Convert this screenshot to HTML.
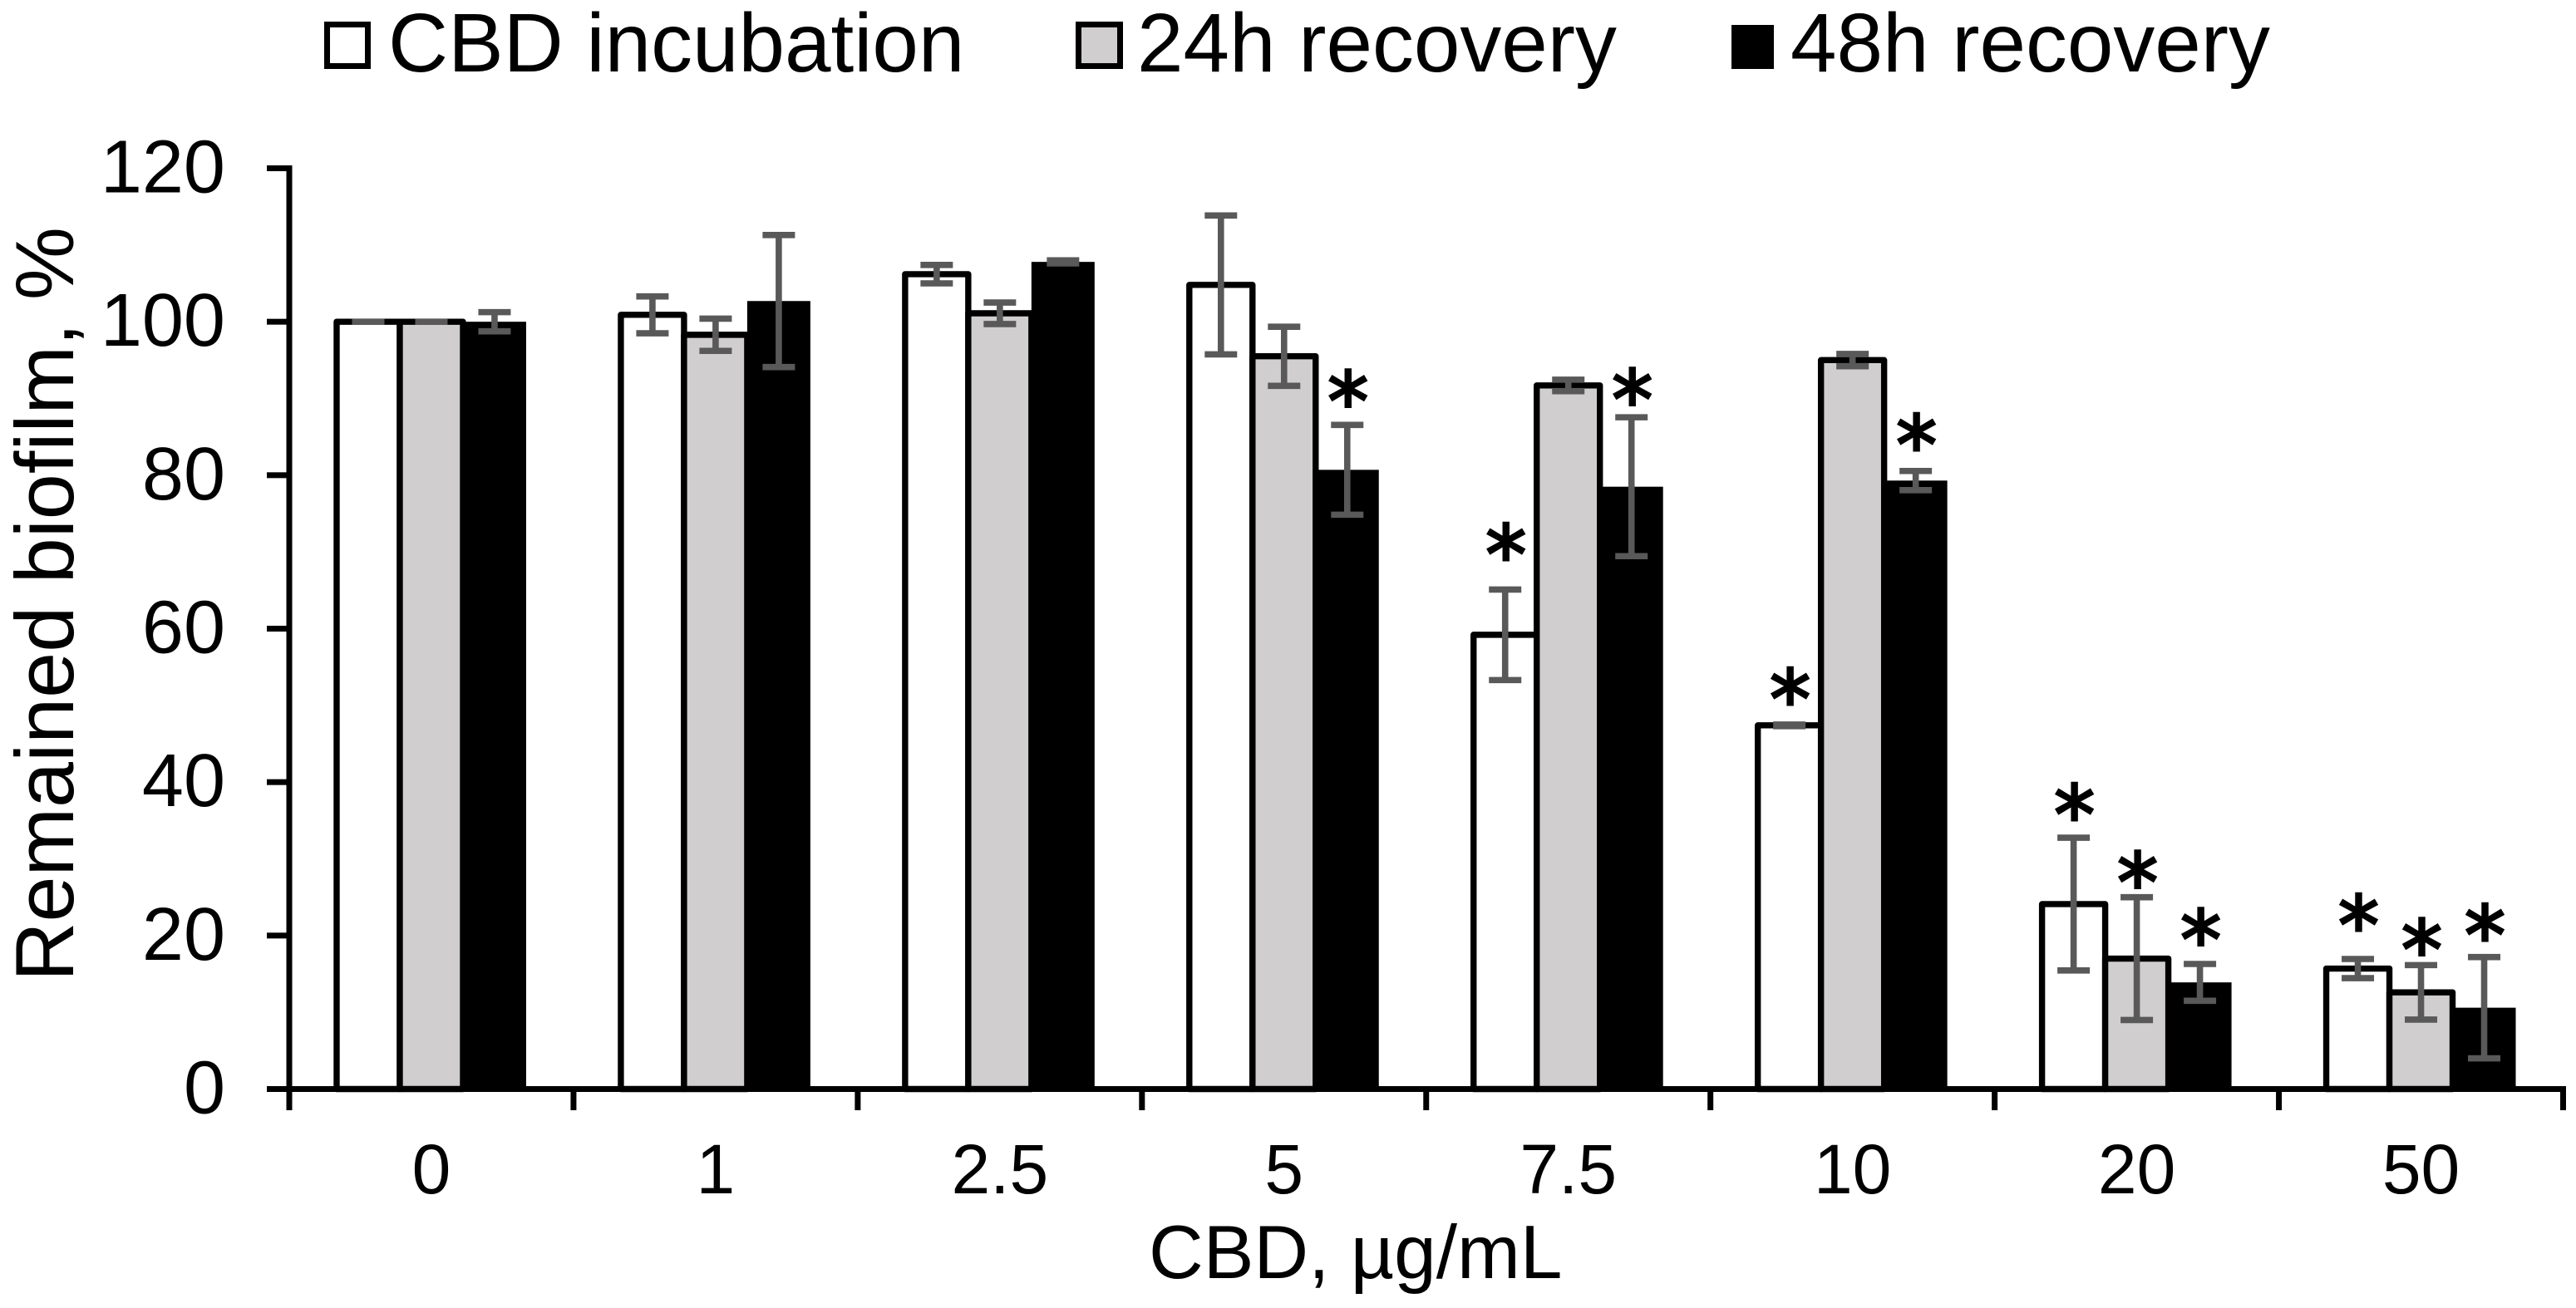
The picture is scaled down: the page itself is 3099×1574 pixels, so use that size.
<!DOCTYPE html>
<html lang="en">
<head>
<meta charset="utf-8">
<title>Remained biofilm after CBD treatment</title>
<style>
html,body{margin:0;padding:0;background:#fff;width:3099px;height:1574px;overflow:hidden}
svg{display:block}
text{font-family:"Liberation Sans",Arial,sans-serif;fill:#000}
</style>
</head>
<body>
<svg id="chart" xmlns="http://www.w3.org/2000/svg" width="3099" height="1574" viewBox="0 0 3099 1574">
  <rect x="0" y="0" width="3099" height="1574" fill="#ffffff"/>
  <g id="legend">
    <g>
      <rect x="393.5" y="29.5" width="49" height="50" fill="#ffffff" stroke="#000" stroke-width="7"/>
      <text x="467" y="86" font-size="99.8">CBD incubation</text>
    </g>
    <g>
      <rect x="1297.5" y="29.5" width="50" height="50" fill="#d0cece" stroke="#000" stroke-width="7"/>
      <text x="1368" y="86" font-size="99.8">24h recovery</text>
    </g>
    <g>
      <rect x="2083" y="30" width="51" height="53" fill="#000000"/>
      <text x="2154" y="86" font-size="99.8">48h recovery</text>
    </g>
  </g>
  <g id="bars"></g>
  <g id="axes"></g>
  <g id="errors"></g>
  <g id="stars"></g>
  <text font-size="99" transform="translate(88 1181) rotate(-90)">Remained biofilm, %</text>
  <text x="1382" y="1538" font-size="91">CBD, µg/mL</text>
</svg>
<script>
const categories = ['0', '1', '2.5', '5', '7.5', '10', '20', '50'];
const seriesNames = ['cbd-incubation', '24h-recovery', '48h-recovery'];
const yTickLabels = [0, 20, 40, 60, 80, 100, 120];

const cbdIncubation = [100, 100.9, 106.2, 104.8, 59.2, 47.4, 24.1, 15.7];
const recovery24h = [100, 98.3, 101.1, 95.5, 91.7, 95.0, 17.0, 12.6];
const recovery48h = [100, 102.7, 107.8, 80.7, 78.5, 79.3, 13.9, 10.6];

const cbdIncubationError = [0, 2.4, 1.2, 9.05, 5.9, 0.1, 8.65, 1.25];
const recovery24hError = [0, 2.1, 1.4, 3.85, 0.75, 0.8, 8.0, 3.55];
const recovery48hError = [1.25, 8.6, 0.2, 5.85, 9.05, 1.25, 2.4, 6.6];

/* value level at which each significance asterisk sits; null = no asterisk */
const cbdIncubationStars = [null, null, null, null, 71.4, 52.6, 37.5, 23.1];
const recovery24hStars = [null, null, null, null, null, null, 28.7, 19.9];
const recovery48hStars = [null, null, null, 91.4, 91.6, 85.7, 21.2, 21.8];

const seriesValues = [cbdIncubation, recovery24h, recovery48h];
const seriesErrors = [cbdIncubationError, recovery24hError, recovery48hError];
const seriesStars = [cbdIncubationStars, recovery24hStars, recovery48hStars];

const SVG_NS = 'http://www.w3.org/2000/svg';
const plotLeft = 348, plotRight = 3083.5, plotBottom = 1310.5, plotTop = 202.5, yMax = 120;
const bandWidth = (plotRight - plotLeft) / categories.length;
const barWidth = bandWidth / 4.5;
const gapOffset = barWidth * 0.75;

function yScale(v) { return plotBottom - (v / yMax) * (plotBottom - plotTop); }
function bandLeft(i) { return plotLeft + i * bandWidth; }
function barLeft(c, s) { return bandLeft(c) + gapOffset + s * barWidth; }

function make(tag, attrs, parent) {
  const el = document.createElementNS(SVG_NS, tag);
  for (const k in attrs) el.setAttribute(k, attrs[k]);
  parent.appendChild(el);
  return el;
}

const barsG = document.getElementById('bars');
const axesG = document.getElementById('axes');
const errorsG = document.getElementById('errors');
const starsG = document.getElementById('stars');
const fills = ['#ffffff', '#d0cece', '#000000'];

seriesValues.forEach(function (values, s) {
  values.forEach(function (v, c) {
    const top = yScale(v);
    const attrs = { x: barLeft(c, s), y: top, width: barWidth, height: plotBottom - top, fill: fills[s] };
    if (s < 2) { attrs.stroke = '#000'; attrs['stroke-width'] = 7.4; attrs['stroke-linejoin'] = 'round'; }
    const el = make('rect', attrs, barsG);
    
    
  });
});

const yAxisLine = make('rect', { x: plotLeft - 3.5, y: plotTop - 3.5, width: 7, height: 1336 - plotTop + 3.5, fill: '#000' }, axesG);



const xAxisLine = make('rect', { x: 321, y: plotBottom - 3.5, width: plotRight + 3.5 - 321, height: 7, fill: '#000' }, axesG);



yTickLabels.forEach(function (t) {
  const y = yScale(t);
  const tick = make('rect', { x: 321, y: y - 3.5, width: plotLeft - 321, height: 7, fill: '#000' }, axesG);
  
  
  const label = make('text', { x: 271, y: y + 29, 'font-size': 90, 'text-anchor': 'end' }, axesG);
  label.textContent = String(t);
  
  
});

for (let i = 0; i <= categories.length; i++) {
  const x = bandLeft(i);
  const tick = make('rect', { x: x - 3.5, y: plotBottom, width: 7, height: 1336 - plotBottom, fill: '#000' }, axesG);
  
  
}

categories.forEach(function (name, c) {
  const label = make('text', { x: bandLeft(c) + bandWidth / 2, y: 1436, 'font-size': 84, 'text-anchor': 'middle' }, axesG);
  label.textContent = name;
  
  
});

seriesErrors.forEach(function (errs, s) {
  errs.forEach(function (e, c) {
    const v = seriesValues[s][c];
    const x = barLeft(c, s) + barWidth / 2;
    const yHi = yScale(v + e), yLo = yScale(v - e);
    const capHalf = 19.5;
    const d = 'M' + (x - capHalf) + ' ' + yHi + 'H' + (x + capHalf) +
              'M' + (x - capHalf) + ' ' + yLo + 'H' + (x + capHalf) +
              'M' + x + ' ' + yHi + 'V' + yLo;
    const el = make('path', { d: d, fill: 'none', stroke: '#595959', 'stroke-width': 7.6 }, errorsG);
    
    
  });
});

const starFontSize = 98;
seriesStars.forEach(function (levels, s) {
  levels.forEach(function (level, c) {
    if (level === null) return;
    const star = make('text', {
      x: barLeft(c, s) + barWidth / 2 + 1,
      y: yScale(level) + starFontSize * 0.52,
      'font-size': starFontSize,
      'text-anchor': 'middle',
      stroke: '#000',
      'stroke-width': 3,
      style: 'font-family:"DejaVu Sans",sans-serif'
    }, starsG);
    star.textContent = '*';
    
    
  });
});
</script>
</body>
</html>
